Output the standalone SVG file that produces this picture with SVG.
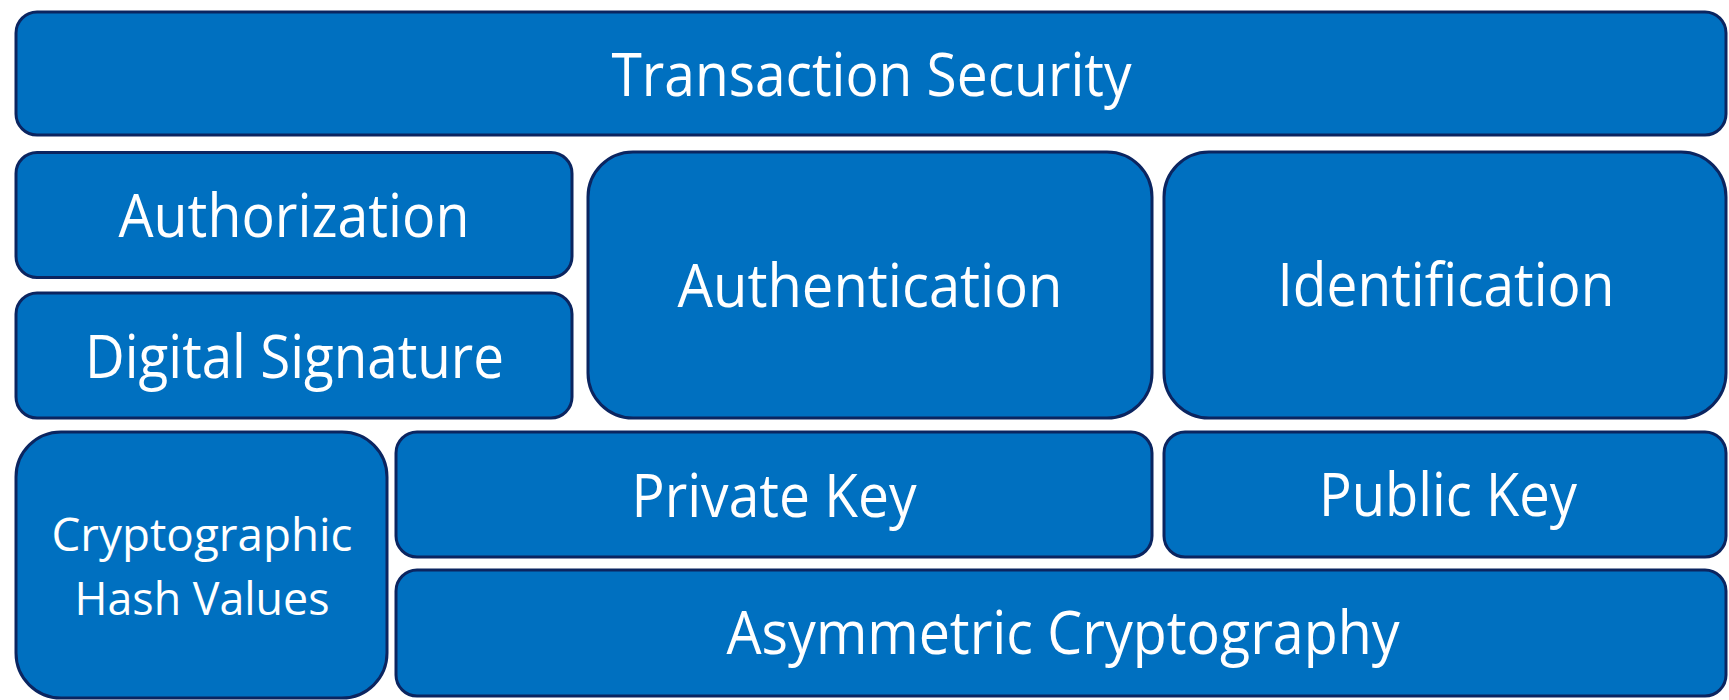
<svg xmlns="http://www.w3.org/2000/svg" width="1729" height="700" viewBox="0 0 1729 700">
  <style>
    .box { fill: #0070C0; stroke: #0B2560; stroke-width: 3; }
    .lbl { fill: #FFFFFF; font-family: "Open Sans", "Liberation Sans", sans-serif; font-size: 60px; text-anchor: middle; }
    .sm { font-size: 46px; }
  </style>
  <rect width="1729" height="700" fill="#FFFFFF"/>

  <g id="transaction-security">
    <rect class="box" x="16" y="12" width="1710" height="123" rx="21" ry="21"/>
    <text class="lbl" x="871.5" y="96" textLength="520" lengthAdjust="spacingAndGlyphs">Transaction Security</text>
  </g>

  <g id="authorization">
    <rect class="box" x="16" y="152.5" width="556" height="125" rx="21" ry="21"/>
    <text class="lbl" x="294" y="237" textLength="351" lengthAdjust="spacingAndGlyphs">Authorization</text>
  </g>

  <g id="digital-signature">
    <rect class="box" x="16" y="293" width="556" height="125" rx="21" ry="21"/>
    <text class="lbl" x="294.5" y="377.5" textLength="419" lengthAdjust="spacingAndGlyphs">Digital Signature</text>
  </g>

  <g id="authentication">
    <rect class="box" x="588" y="152" width="564" height="266" rx="45" ry="45"/>
    <text class="lbl" x="870" y="306.5" textLength="385" lengthAdjust="spacingAndGlyphs">Authentication</text>
  </g>

  <g id="identification">
    <rect class="box" x="1164" y="152" width="562" height="266" rx="45" ry="45"/>
    <text class="lbl" x="1446" y="306" textLength="337" lengthAdjust="spacingAndGlyphs">Identification</text>
  </g>

  <g id="hash-values">
    <rect class="box" x="16" y="432" width="371" height="266" rx="45" ry="45"/>
    <text class="lbl sm" x="202" y="551" textLength="301" lengthAdjust="spacingAndGlyphs">Cryptographic</text>
    <text class="lbl sm" x="202" y="615" textLength="255" lengthAdjust="spacingAndGlyphs">Hash Values</text>
  </g>

  <g id="private-key">
    <rect class="box" x="396" y="432" width="756" height="125" rx="21" ry="21"/>
    <text class="lbl" x="774" y="517" textLength="285" lengthAdjust="spacingAndGlyphs">Private Key</text>
  </g>

  <g id="public-key">
    <rect class="box" x="1164" y="432" width="562" height="125" rx="21" ry="21"/>
    <text class="lbl" x="1448" y="516" textLength="258" lengthAdjust="spacingAndGlyphs">Public Key</text>
  </g>

  <g id="asymmetric-cryptography">
    <rect class="box" x="396" y="570" width="1330" height="126" rx="21" ry="21"/>
    <text class="lbl" x="1063" y="654" textLength="673" lengthAdjust="spacingAndGlyphs">Asymmetric Cryptography</text>
  </g>

  <!-- stacked layout; no connectors between blocks -->
  <g id="connectors"/>
</svg>
